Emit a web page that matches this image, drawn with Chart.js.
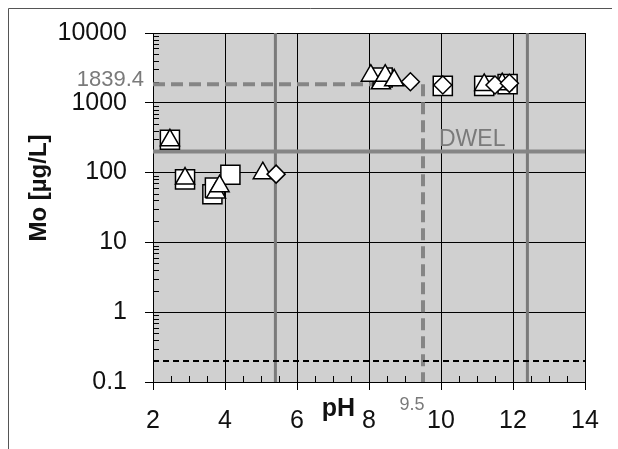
<!DOCTYPE html>
<html>
<head>
<meta charset="utf-8">
<script src="https://cdn.jsdelivr.net/npm/chart.js@4.4.0/dist/chart.umd.min.js"></script>
<style>
  html, body { margin: 0; padding: 0; background: #fff; }
</style>
</head>
<body>
<canvas id="moChart" width="618" height="449"></canvas>
<script>
// Mo concentration vs pH
const squarePH = [2.47, 2.89, 3.65, 3.72, 4.15, 8.38, 10.05, 11.2, 11.85];
const squareMo = [295, 80, 49, 61, 93, 2300, 1750, 1750, 1850];
const trianglePH = [2.47, 2.89, 3.75, 3.85, 5.05, 8.05, 8.33, 8.45, 8.7, 11.2, 11.7];
const triangleMo = [290, 82, 52, 64, 98, 2450, 1900, 2450, 2100, 1800, 1850];
const diamondPH = [5.42, 9.15, 10.05, 11.5, 11.9];
const diamondMo = [95, 2000, 1800, 1800, 1900];

// reference lines
const dwel = 200;
const detectionLimit = 0.2;
const thresholdPH = 9.5;
const thresholdMo = 1839.4;
const boundaryPH = [5.4, 12.4];

// axes
const xTicks = [2, 4, 6, 8, 10, 12, 14];
const yTicks = [0.1, 1, 10, 100, 1000, 10000];
const xMinorStep = 0.5;

const FONT = '"Liberation Sans", Arial, sans-serif';
const GREY = '#858585';

const pts = (xs, ys) => xs.map((x, i) => ({ x: x, y: ys[i] }));

function markerSet(xs, ys, style, radius, order) {
    return {
        data: pts(xs, ys),
        pointStyle: style,
        pointRadius: radius,
        pointBackgroundColor: '#fff',
        pointBorderColor: '#000',
        pointBorderWidth: 1.5,
        showLine: false,
        order: order
    };
}

function refLine(points, color, width, dash) {
    return {
        type: 'line',
        data: points,
        borderColor: color,
        borderWidth: width,
        borderDash: dash || [],
        pointRadius: 0,
        showLine: true,
        fill: false,
        tension: 0,
        order: 10
    };
}

const xMin = xTicks[0], xMax = xTicks[xTicks.length - 1];
const yMin = yTicks[0], yMax = yTicks[yTicks.length - 1];

// Background, minor ticks and annotations
const decorPlugin = {
    id: 'decor',
    beforeDraw(chart) {
        const { ctx, chartArea: a } = chart;
        ctx.save();
        ctx.fillStyle = '#fff';
        ctx.fillRect(0, 0, chart.width, chart.height);
        ctx.fillStyle = '#d0d0d0';
        ctx.fillRect(a.left, a.top, a.right - a.left, a.bottom - a.top);
        // outer frame (top and left)
        ctx.strokeStyle = '#555';
        ctx.lineWidth = 1;
        ctx.beginPath();
        ctx.moveTo(8.5, chart.height);
        ctx.lineTo(8.5, 8.5);
        ctx.lineTo(612, 8.5);
        ctx.stroke();
        ctx.restore();
    },
    beforeDatasetsDraw(chart) {
        const { ctx, chartArea: a, scales: { x, y } } = chart;
        ctx.save();
        ctx.strokeStyle = '#000';
        ctx.lineWidth = 1;
        ctx.beginPath();
        for (let d = yMin; d < yMax; d *= 10) {
            for (let k = 2; k <= 9; k++) {
                const py = Math.round(y.getPixelForValue(k * d)) + 0.5;
                ctx.moveTo(a.left, py);
                ctx.lineTo(a.left + 6, py);
            }
        }
        for (let v = xMin + xMinorStep; v < xMax; v += xMinorStep) {
            if (xTicks.includes(v)) continue;
            const px = Math.round(x.getPixelForValue(v)) + 0.5;
            ctx.moveTo(px, a.bottom);
            ctx.lineTo(px, a.bottom - 6);
        }
        ctx.stroke();
        ctx.restore();
    },
    afterDraw(chart) {
        const { ctx, chartArea: a, scales: { x, y } } = chart;
        ctx.save();
        ctx.fillStyle = '#7a7a7a';
        ctx.font = '22px ' + FONT;
        ctx.textAlign = 'right';
        ctx.textBaseline = 'alphabetic';
        ctx.fillText('1839.4', a.left - 9, y.getPixelForValue(thresholdMo) + 2);

        ctx.font = '18px ' + FONT;
        ctx.textAlign = 'center';
        ctx.fillText('9.5', x.getPixelForValue(thresholdPH) - 11, a.bottom + 28);

        ctx.font = '23px ' + FONT;
        ctx.textAlign = 'left';
        ctx.fillText('DWEL', x.getPixelForValue(10) - 2, y.getPixelForValue(dwel) - 6);

        ctx.fillStyle = '#111';
        ctx.font = 'bold 25px ' + FONT;
        ctx.textAlign = 'center';
        ctx.fillText('pH', x.getPixelForValue(7.15), a.bottom + 34);

        ctx.translate(39, 188);
        ctx.rotate(-Math.PI / 2);
        ctx.font = 'bold 24px ' + FONT;
        ctx.textBaseline = 'middle';
        ctx.fillText('Mo [\u00b5g/L]', 0, 0);
        ctx.restore();
    }
};

const ctx = document.getElementById('moChart').getContext('2d');
new Chart(ctx, {
    type: 'scatter',
    data: {
        datasets: [
            markerSet(squarePH, squareMo, 'rect', 13.5, 3),
            markerSet(trianglePH, triangleMo, 'triangle', 11, 2),
            markerSet(diamondPH, diamondMo, 'rectRot', 9, 1),
            refLine([{ x: xMin, y: dwel }, { x: xMax, y: dwel }], GREY, 4),
            refLine([{ x: xMin, y: detectionLimit }, { x: xMax, y: detectionLimit }], '#000', 2, [6, 4]),
            refLine([{ x: xMin, y: thresholdMo }, { x: thresholdPH, y: thresholdMo }, { x: thresholdPH, y: yMin }], GREY, 4, [12, 6]),
            refLine([{ x: boundaryPH[0], y: yMin }, { x: boundaryPH[0], y: yMax }], '#7a7a7a', 3),
            refLine([{ x: boundaryPH[1], y: yMin }, { x: boundaryPH[1], y: yMax }], '#7a7a7a', 3)
        ]
    },
    plugins: [decorPlugin],
    options: {
        responsive: false,
        animation: false,
        layout: { padding: { left: 0, top: 25, right: 33, bottom: 0 } },
        plugins: {
            legend: { display: false },
            tooltip: { enabled: false }
        },
        scales: {
            x: {
                type: 'linear',
                min: xMin,
                max: xMax,
                afterBuildTicks: s => { s.ticks = xTicks.map(v => ({ value: v })); },
                afterFit: s => { s.height = 67; },
                grid: { color: '#000', lineWidth: 1, tickLength: 8, tickColor: '#000' },
                border: { color: '#000', width: 1 },
                ticks: {
                    color: '#111',
                    font: { family: FONT, size: 25 },
                    padding: 16,
                    maxRotation: 0,
                    autoSkip: false
                }
            },
            y: {
                type: 'logarithmic',
                min: yMin,
                max: yMax,
                afterBuildTicks: s => { s.ticks = yTicks.map(v => ({ value: v })); },
                afterFit: s => { s.width = 153; },
                grid: { color: '#000', lineWidth: 1, tickLength: 8, tickColor: '#000' },
                border: { color: '#000', width: 1 },
                ticks: {
                    color: '#111',
                    font: { family: FONT, size: 25 },
                    padding: 18,
                    autoSkip: false,
                    callback: v => String(v)
                }
            }
        }
    }
});
</script>
</body>
</html>
